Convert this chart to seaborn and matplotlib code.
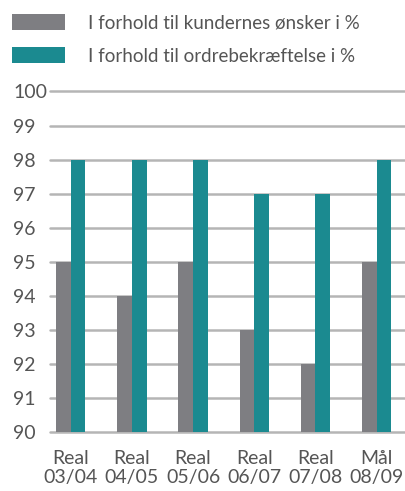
import matplotlib
matplotlib.use("Agg")
import matplotlib.pyplot as plt
import seaborn as sns
import pandas as pd
from matplotlib.patches import Patch

periods = ["Real\n03/04", "Real\n04/05", "Real\n05/06", "Real\n06/07", "Real\n07/08", "Mål\n08/09"]
series_names = ["I forhold til kundernes ønsker i %", "I forhold til ordrebekræftelse i %"]
kunder = [95, 94, 95, 93, 92, 95]
ordre = [98, 98, 98, 97, 97, 98]
yticks = [90, 91, 92, 93, 94, 95, 96, 97, 98, 99, 100]

colors = ["#7e7e82", "#1b8a90"]
text_color = "#555555"

df = pd.DataFrame({
    "period": periods * 2,
    "series": [series_names[0]] * len(periods) + [series_names[1]] * len(periods),
    "value": kunder + ordre,
})

sns.set_theme(style="white")
plt.rcParams["font.family"] = ["Lato", "DejaVu Sans"]

W, H = 406, 491
fig = plt.figure(figsize=(W / 100, H / 100), dpi=100)
ax = fig.add_axes([50 / W, (H - 432) / H, (W - 50) / W, (432 - 91.5) / H])

sns.barplot(data=df, x="period", y="value", hue="series", order=periods,
            hue_order=series_names, palette=colors, width=0.48, saturation=1,
            ax=ax, legend=False, zorder=3)
for p in ax.patches:
    h = p.get_height()
    p.set_y(90)
    p.set_height(h - 90)
    p.set_linewidth(0)

ax.set_ylim(90, 100)
ax.set_xlim(-20.7 / 61.2, 5 + (406 - 376.5) / 61.2)
ax.set_yticks(yticks)
ax.set_yticklabels([str(v) for v in yticks])
for v in yticks:
    ax.axhline(v, color="#b5b5b5", lw=1.8, zorder=1, clip_on=False)
for s in ax.spines.values():
    s.set_visible(False)
ax.tick_params(axis="y", length=0, pad=37 * 72 / 100, labelsize=14, labelcolor=text_color)
for lbl in ax.get_yticklabels():
    lbl.set_horizontalalignment("left")
ax.tick_params(axis="x", length=0, pad=13, labelsize=14, labelcolor=text_color)
for lbl in ax.get_xticklabels():
    lbl.set_linespacing(1.12)
ax.set_xlabel("")
ax.set_ylabel("")

handles = [Patch(facecolor=c, edgecolor="none") for c in colors]
fs = 13.5
fig.legend(handles, series_names, loc="upper left", bbox_to_anchor=(12 / W, 1 - 14 / H),
           frameon=False, fontsize=fs, labelcolor=text_color,
           handlelength=38 / fs, handleheight=12.5 / fs, handletextpad=16.5 / fs,
           labelspacing=0.85, borderaxespad=0, borderpad=0)

fig.savefig("out.png", dpi=100)
